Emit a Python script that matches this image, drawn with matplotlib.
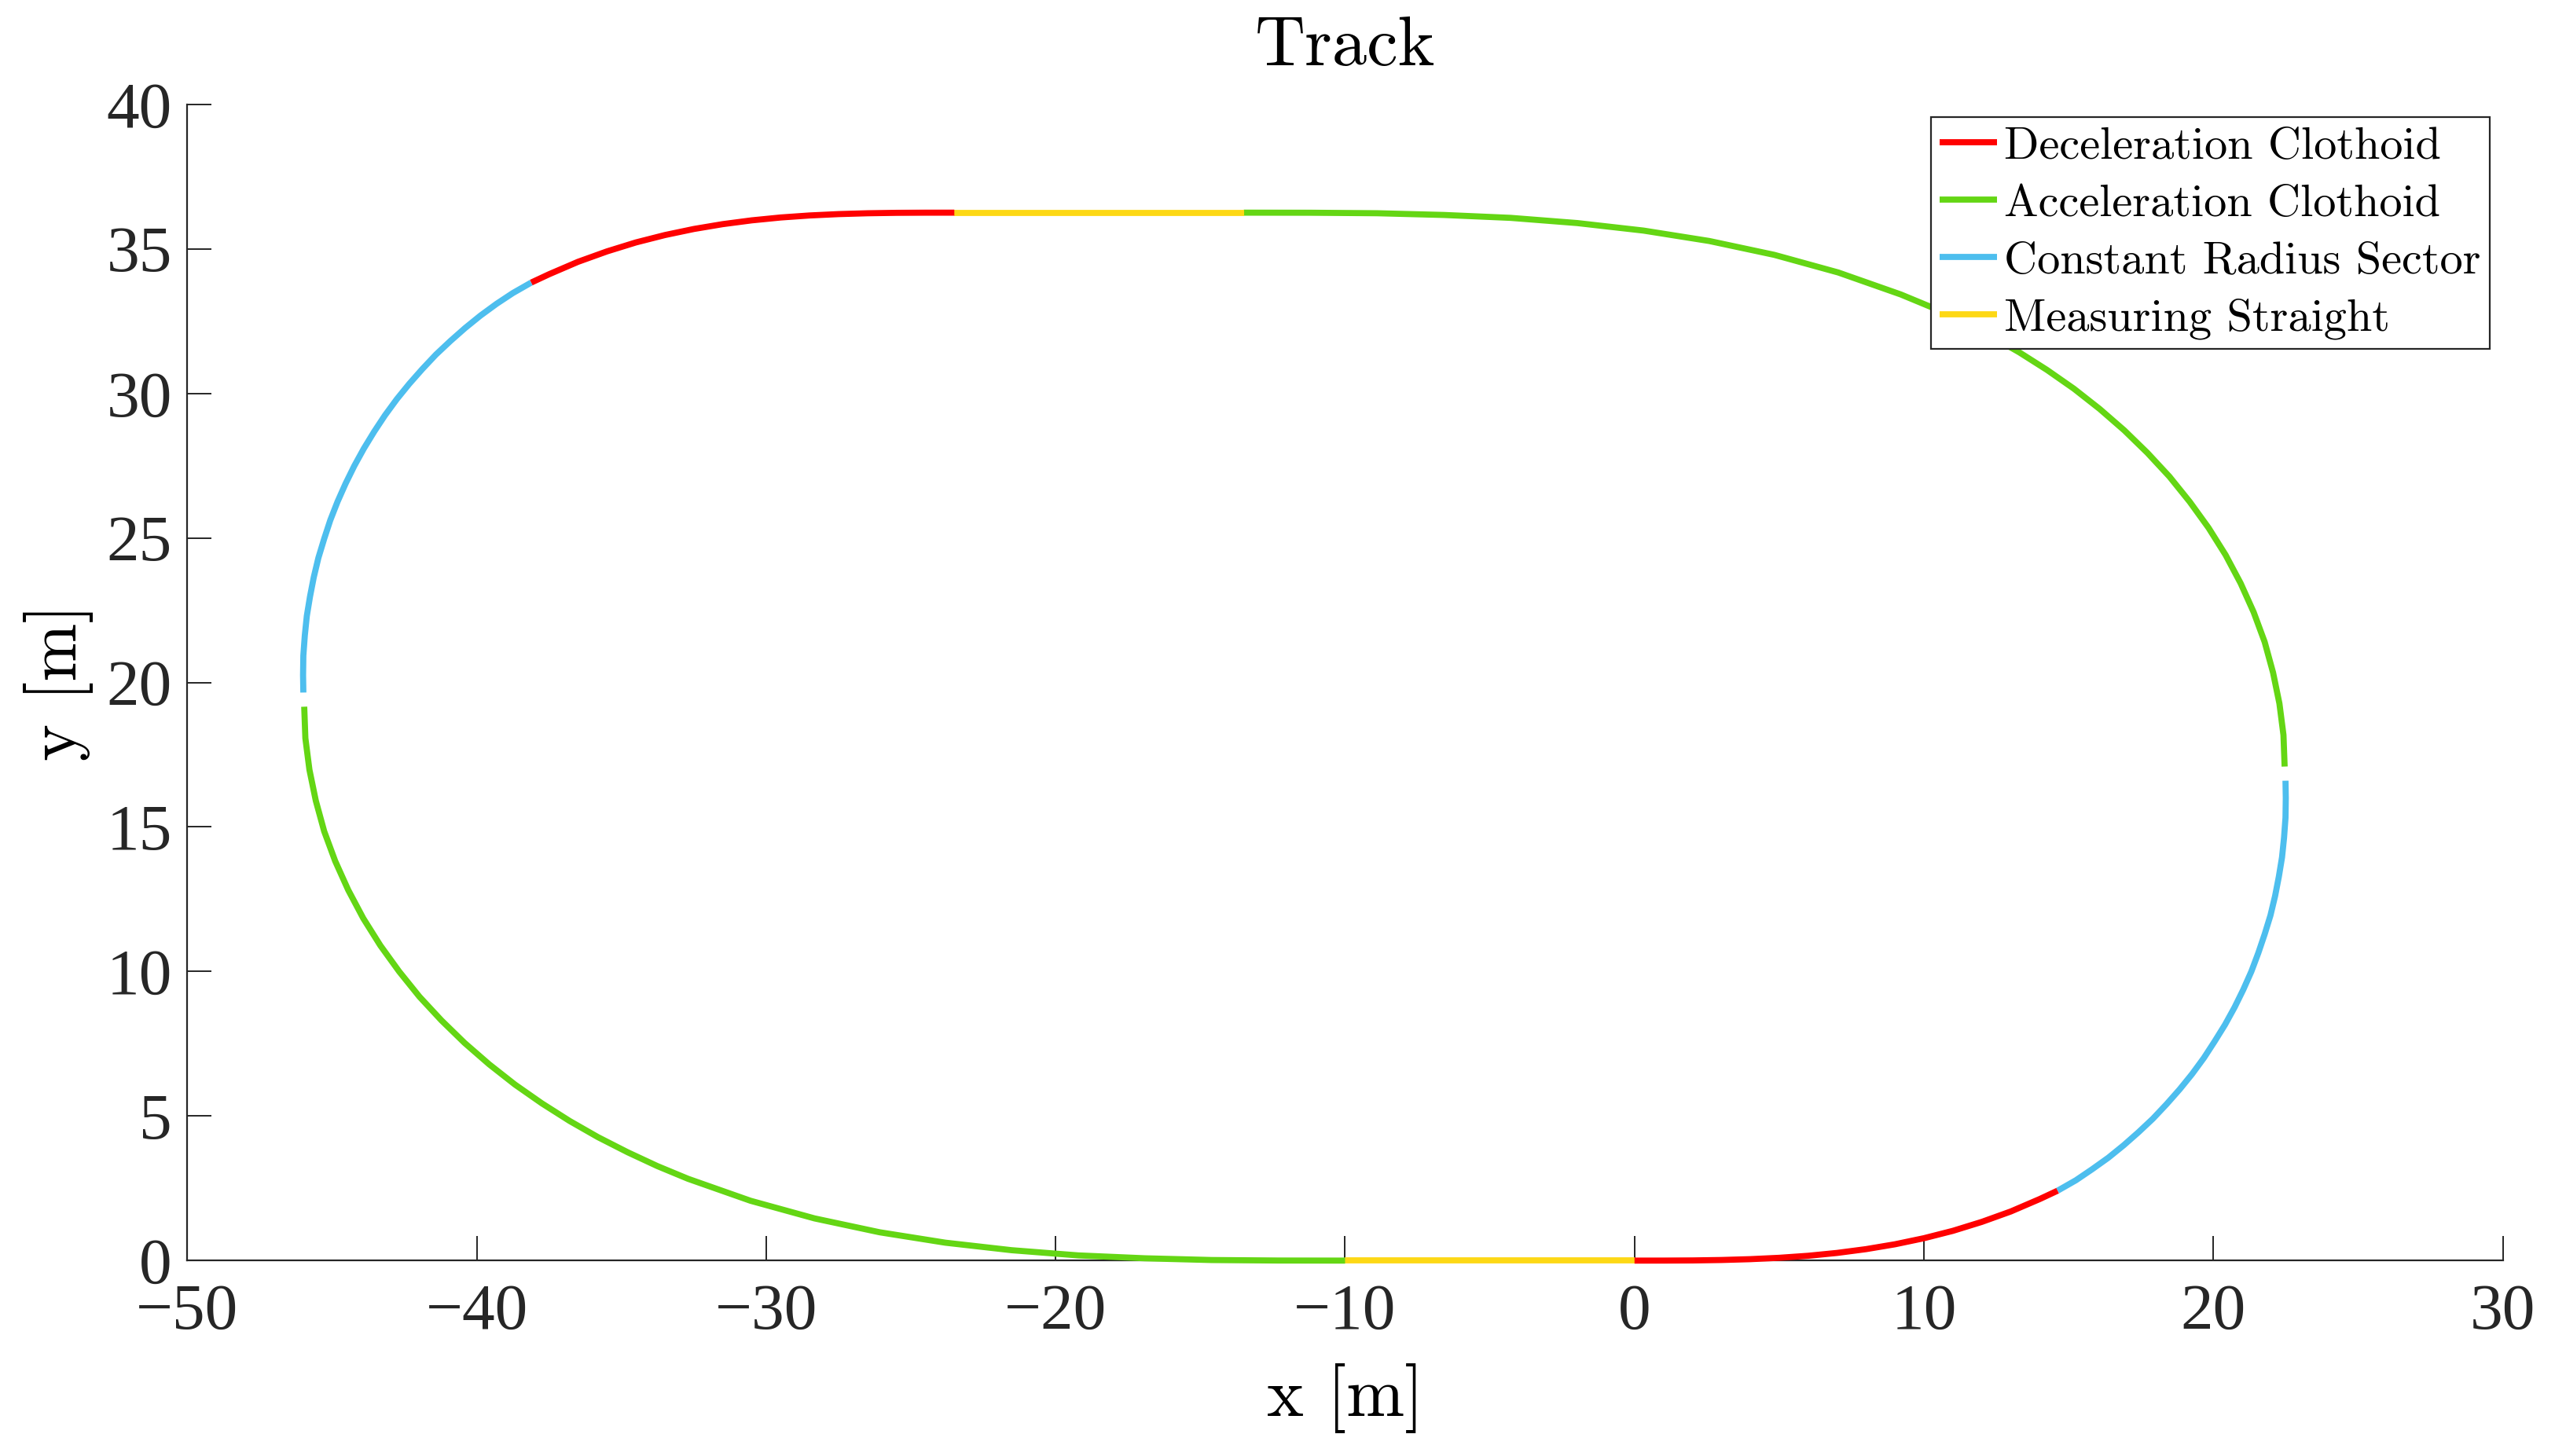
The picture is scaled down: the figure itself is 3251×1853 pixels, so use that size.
import matplotlib
matplotlib.use('Agg')
import matplotlib.pyplot as plt

# colours of the four segment types
RED = '#FF0000'
GREEN = '#64D614'
BLUE = '#4DBEEE'
YELLOW = '#FDD815'

# points (x, y in metres)
straight_bottom_x = [-10.0, 0.0]
straight_bottom_y = [0.0, 0.0]

decel_bottom_x = [0.0, 1.0, 2.0, 3.0, 4.0, 5.0, 6.0, 7.0, 8.0, 9.0, 10.0, 11.0, 12.0, 13.0, 14.0, 14.62]
decel_bottom_y = [0.0, 0.001, 0.006, 0.021, 0.050, 0.097, 0.167, 0.266, 0.397, 0.565, 0.775, 1.03, 1.34, 1.70, 2.13, 2.42]

radius_right_x = [14.62, 15.25, 15.81, 16.37, 16.90, 17.41, 17.91, 18.38, 18.83, 19.26, 19.67, 20.04, 20.40,
                  20.73, 21.03, 21.31, 21.55, 21.77, 21.97, 22.13, 22.26, 22.37, 22.44, 22.49, 22.50, 22.49]
radius_right_y = [2.42, 2.78, 3.16, 3.56, 3.99, 4.44, 4.91, 5.41, 5.92, 6.45, 7.01, 7.58, 8.16,
                  8.76, 9.37, 10.00, 10.64, 11.29, 11.94, 12.61, 13.28, 13.95, 14.63, 15.32, 16.00, 16.60]

accel_top_x = [22.46, 22.42, 22.28, 22.06, 21.77, 21.39, 20.94, 20.42, 19.83, 19.18, 18.48, 17.72, 16.92,
               16.07, 15.18, 14.25, 13.29, 12.31, 11.29, 10.26, 9.20, 7.04, 4.83, 2.58, 0.31, -1.98,
               -4.28, -6.58, -8.89, -11.19, -13.50]
accel_top_y = [17.09, 18.18, 19.27, 20.34, 21.40, 22.43, 23.43, 24.41, 25.35, 26.25, 27.12, 27.94, 28.72,
               29.46, 30.16, 30.81, 31.42, 31.98, 32.50, 32.98, 33.42, 34.18, 34.79, 35.27, 35.63, 35.89,
               36.07, 36.17, 36.23, 36.247, 36.25]

straight_top_x = [-13.50, -23.50]
straight_top_y = [36.25, 36.25]

decel_top_x = [-23.50, -24.5, -25.5, -26.5, -27.5, -28.5, -29.5, -30.5, -31.5, -32.5, -33.5, -34.5, -35.5,
               -36.5, -37.5, -38.12]
decel_top_y = [36.25, 36.249, 36.244, 36.229, 36.20, 36.153, 36.083, 35.984, 35.853, 35.685, 35.475, 35.22,
               34.91, 34.55, 34.12, 33.83]

radius_left_x = [-38.12, -38.75, -39.31, -39.87, -40.40, -40.91, -41.41, -41.88, -42.33, -42.76, -43.17,
                 -43.54, -43.90, -44.23, -44.53, -44.81, -45.06, -45.27, -45.47, -45.63, -45.76, -45.87,
                 -45.94, -45.99, -46.00, -45.99]
radius_left_y = [33.83, 33.47, 33.10, 32.69, 32.26, 31.81, 31.34, 30.84, 30.33, 29.80, 29.24,
                 28.68, 28.09, 27.49, 26.88, 26.25, 25.61, 24.97, 24.31, 23.64, 22.97, 22.30,
                 21.62, 20.93, 20.25, 19.65]

accel_bottom_x = [-45.96, -45.92, -45.78, -45.56, -45.27, -44.89, -44.44, -43.92, -43.33, -42.68, -41.98,
                  -41.22, -40.42, -39.57, -38.68, -37.75, -36.79, -35.81, -34.79, -33.76, -32.70, -30.54,
                  -28.33, -26.08, -23.81, -21.52, -19.22, -16.92, -14.61, -12.31, -10.0]
accel_bottom_y = [19.16, 18.07, 16.98, 15.91, 14.85, 13.82, 12.82, 11.84, 10.90, 10.00, 9.13,
                  8.31, 7.53, 6.79, 6.09, 5.44, 4.83, 4.27, 3.75, 3.27, 2.83, 2.07,
                  1.46, 0.98, 0.62, 0.36, 0.18, 0.08, 0.02, 0.003, 0.0]

x_ticks = [-50, -40, -30, -20, -10, 0, 10, 20, 30]
y_ticks = [0, 5, 10, 15, 20, 25, 30, 35, 40]

labels = ['Deceleration Clothoid', 'Acceleration Clothoid', 'Constant Radius Sector', 'Measuring Straight']

plt.rcParams['axes.unicode_minus'] = True
LATEX = 'cmr10'
TICKFONT = 'Liberation Serif'
INK = '#262626'
LW = 2.8


def segment(ax, xs, ys, color):
    line, = ax.plot(xs, ys, color=color, lw=LW, solid_capstyle='butt',
                    solid_joinstyle='round', clip_on=False, zorder=3)
    return line


fig = plt.figure(figsize=(16.255, 9.265), dpi=200)
ax = fig.add_axes([0.0733, 0.1342, 0.9063, 0.7942])

segment(ax, straight_bottom_x, straight_bottom_y, YELLOW)
h_red = segment(ax, decel_bottom_x, decel_bottom_y, RED)
h_blue = segment(ax, radius_right_x, radius_right_y, BLUE)
h_green = segment(ax, accel_top_x, accel_top_y, GREEN)
h_yellow = segment(ax, straight_top_x, straight_top_y, YELLOW)
segment(ax, decel_top_x, decel_top_y, RED)
segment(ax, radius_left_x, radius_left_y, BLUE)
segment(ax, accel_bottom_x, accel_bottom_y, GREEN)

ax.set_xlim(-50, 30)
ax.set_ylim(0, 40)
ax.set_xticks(x_ticks)
ax.set_yticks(y_ticks)
for lab in ax.get_xticklabels() + ax.get_yticklabels():
    lab.set_fontfamily(TICKFONT)
    lab.set_fontsize(30)
    lab.set_color(INK)
ax.tick_params(direction='in', length=11, width=0.7, color=INK)
ax.tick_params(axis='x', pad=10.5)
ax.tick_params(axis='y', pad=7)
for side in ['top', 'right']:
    ax.spines[side].set_visible(False)
for side in ['left', 'bottom']:
    ax.spines[side].set_color(INK)
    ax.spines[side].set_linewidth(0.8)

ax.set_title('Track', fontfamily=LATEX, fontsize=32, pad=18)
ax.set_xlabel('x [m]', fontfamily=LATEX, fontsize=32, labelpad=9.5)
ax.set_ylabel('y [m]', fontfamily=LATEX, fontsize=32, labelpad=6)

leg = ax.legend([h_red, h_green, h_blue, h_yellow], labels, loc='upper right',
                bbox_to_anchor=(0.9944, 0.9887), borderaxespad=0,
                prop={'family': LATEX, 'size': 21}, fancybox=False, framealpha=1,
                edgecolor=INK, handlelength=1.25, handletextpad=0.15,
                labelspacing=0.36, borderpad=0.2)
leg.get_frame().set_linewidth(0.8)
leg.set_zorder(5)

fig.savefig('out.png', dpi=200)
